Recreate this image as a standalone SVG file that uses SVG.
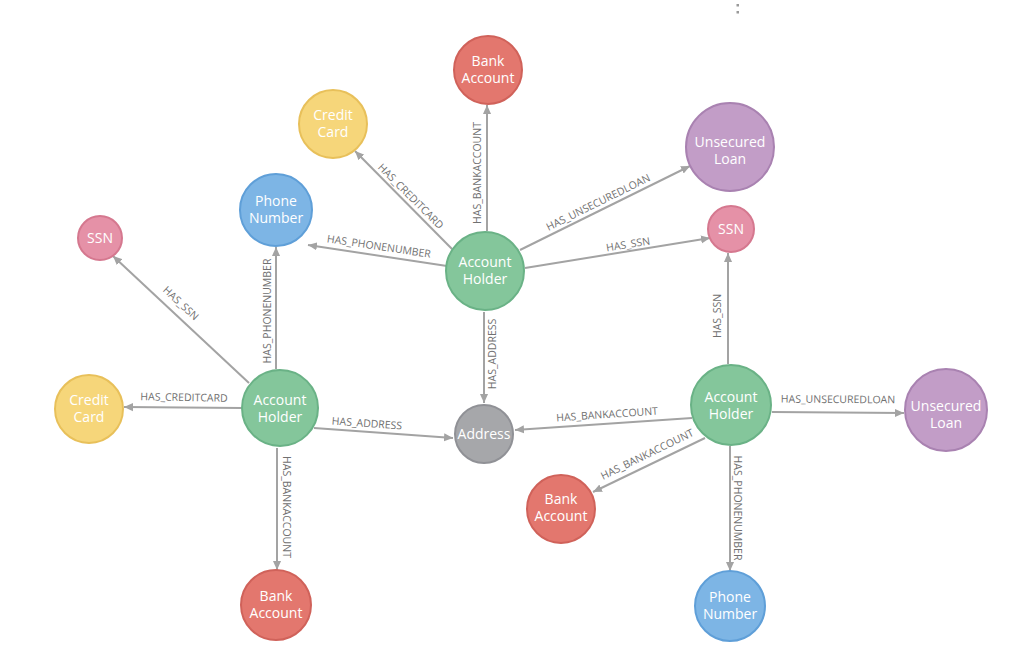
<svg xmlns="http://www.w3.org/2000/svg" width="1024" height="662" viewBox="0 0 1024 662">
<defs>
<marker id="arr" viewBox="0 0 10 10" refX="10" refY="5" markerWidth="9" markerHeight="9" markerUnits="userSpaceOnUse" orient="auto">
<path d="M0,0.5 L10,5 L0,9.5 z" fill="#a3a3a3"/>
</marker>
<style>
.e{stroke:#a3a3a3;stroke-width:2;fill:none;marker-end:url(#arr)}
.el{font-family:"Open Sans","Noto Sans","Liberation Sans",sans-serif;font-size:10.5px;fill:#707070;text-anchor:middle;dominant-baseline:central}
.nt{font-family:"Open Sans","Noto Sans","Liberation Sans",sans-serif;font-size:14px;fill:#ffffff;text-anchor:middle}
.ba{fill:#e3776e;stroke:#d0625a;stroke-width:2}
.cc{fill:#f6d67a;stroke:#e8c05a;stroke-width:2}
.pn{fill:#7db5e5;stroke:#5f9fd8;stroke-width:2}
.ah{fill:#84c69b;stroke:#6ab286;stroke-width:2}
.ul{fill:#c29dc7;stroke:#a982b1;stroke-width:2}
.ssn{fill:#e591a7;stroke:#d5788f;stroke-width:2}
.ad{fill:#a6a7aa;stroke:#909196;stroke-width:2}
</style>
</defs>
<rect width="1024" height="662" fill="#ffffff"/>
<rect x="736.5" y="4" width="2.5" height="2.5" fill="#9a9a9a"/>
<rect x="736.5" y="11" width="2.5" height="2.5" fill="#9a9a9a"/>
<g id="connectors">
<line class="e" x1="487" y1="231" x2="487" y2="105"/>
<line class="e" x1="452" y1="249" x2="355" y2="151"/>
<line class="e" x1="447" y1="266" x2="308" y2="245"/>
<line class="e" x1="520" y1="250" x2="690" y2="166"/>
<line class="e" x1="525" y1="268" x2="710" y2="238"/>
<line class="e" x1="484" y1="312" x2="484" y2="403"/>
<line class="e" x1="249" y1="383" x2="113" y2="256"/>
<line class="e" x1="276" y1="369" x2="276" y2="247"/>
<line class="e" x1="242" y1="408" x2="124" y2="407"/>
<line class="e" x1="314" y1="428" x2="453" y2="438"/>
<line class="e" x1="277" y1="448" x2="277" y2="570"/>
<line class="e" x1="728" y1="364" x2="728" y2="253"/>
<line class="e" x1="772" y1="412" x2="904" y2="413"/>
<line class="e" x1="730" y1="446" x2="730" y2="571"/>
<line class="e" x1="692" y1="418" x2="515" y2="430"/>
<line class="e" x1="705" y1="438" x2="593" y2="492"/>
<text class="el" transform="translate(477,173) rotate(-90)">HAS_BANKACCOUNT</text>
<text class="el" transform="translate(411,196) rotate(45)">HAS_CREDITCARD</text>
<text class="el" transform="translate(379,246) rotate(8.5)">HAS_PHONENUMBER</text>
<text class="el" transform="translate(598,202) rotate(-26.3)">HAS_UNSECUREDLOAN</text>
<text class="el" transform="translate(628,244) rotate(-9.2)">HAS_SSN</text>
<text class="el" transform="translate(492,354) rotate(-90)">HAS_ADDRESS</text>
<text class="el" transform="translate(181,303) rotate(43)">HAS_SSN</text>
<text class="el" transform="translate(267,311) rotate(-90)">HAS_PHONENUMBER</text>
<text class="el" transform="translate(184,397) rotate(1)">HAS_CREDITCARD</text>
<text class="el" transform="translate(367,423) rotate(4.1)">HAS_ADDRESS</text>
<text class="el" transform="translate(287,507) rotate(90)">HAS_BANKACCOUNT</text>
<text class="el" transform="translate(717,316) rotate(-90)">HAS_SSN</text>
<text class="el" transform="translate(838,399) rotate(0.4)">HAS_UNSECUREDLOAN</text>
<text class="el" transform="translate(738,508) rotate(90)">HAS_PHONENUMBER</text>
<text class="el" transform="translate(607,414) rotate(-3.9)">HAS_BANKACCOUNT</text>
<text class="el" transform="translate(647,454) rotate(-26)">HAS_BANKACCOUNT</text>
</g>
<g id="n-bankaccount-top"><circle class="ba" cx="488" cy="70" r="34"/><text class="nt" x="488" y="66">Bank</text><text class="nt" x="488" y="83">Account</text></g>
<g id="n-creditcard-top"><circle class="cc" cx="333" cy="124" r="34"/><text class="nt" x="333" y="120">Credit</text><text class="nt" x="333" y="137">Card</text></g>
<g id="n-phonenumber-top"><circle class="pn" cx="276" cy="210" r="36"/><text class="nt" x="276" y="206">Phone</text><text class="nt" x="276" y="223">Number</text></g>
<g id="n-accountholder-center"><circle class="ah" cx="485" cy="271" r="39"/><text class="nt" x="485" y="267">Account</text><text class="nt" x="485" y="284">Holder</text></g>
<g id="n-unsecuredloan-top"><circle class="ul" cx="730" cy="147" r="44"/><text class="nt" x="730" y="147">Unsecured</text><text class="nt" x="730" y="164">Loan</text></g>
<g id="n-ssn-right"><circle class="ssn" cx="731" cy="229" r="23"/><text class="nt" x="731" y="234">SSN</text></g>
<g id="n-ssn-left"><circle class="ssn" cx="100" cy="238" r="22"/><text class="nt" x="100" y="243">SSN</text></g>
<g id="n-creditcard-left"><circle class="cc" cx="89" cy="409" r="34"/><text class="nt" x="89" y="405">Credit</text><text class="nt" x="89" y="422">Card</text></g>
<g id="n-accountholder-left"><circle class="ah" cx="280" cy="408" r="38"/><text class="nt" x="280" y="405">Account</text><text class="nt" x="280" y="422">Holder</text></g>
<g id="n-address"><circle class="ad" cx="484" cy="434" r="29"/><text class="nt" x="484" y="439">Address</text></g>
<g id="n-accountholder-right"><circle class="ah" cx="731" cy="405" r="40"/><text class="nt" x="731" y="402">Account</text><text class="nt" x="731" y="419">Holder</text></g>
<g id="n-unsecuredloan-right"><circle class="ul" cx="946" cy="410" r="41"/><text class="nt" x="946" y="411">Unsecured</text><text class="nt" x="946" y="428">Loan</text></g>
<g id="n-bankaccount-mid"><circle class="ba" cx="561" cy="509" r="34"/><text class="nt" x="561" y="504">Bank</text><text class="nt" x="561" y="521">Account</text></g>
<g id="n-phonenumber-bottom"><circle class="pn" cx="730" cy="606" r="35"/><text class="nt" x="730" y="602">Phone</text><text class="nt" x="730" y="619">Number</text></g>
<g id="n-bankaccount-bottom"><circle class="ba" cx="276" cy="605" r="35"/><text class="nt" x="276" y="601">Bank</text><text class="nt" x="276" y="618">Account</text></g>
</svg>
